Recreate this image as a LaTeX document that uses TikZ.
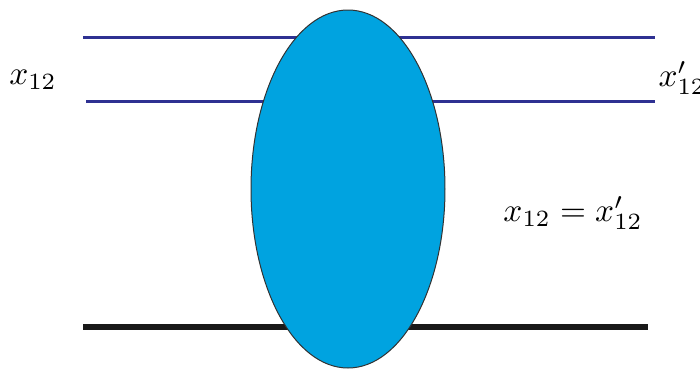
\documentclass[tikz,border=0pt]{standalone}
\usepackage{amsmath,amssymb}
\usepackage{tikz}
\usetikzlibrary{shapes.geometric}

\definecolor{linenavy}{RGB}{46,49,146}
\definecolor{blobcyan}{RGB}{0,163,224}
\definecolor{blobedge}{RGB}{50,50,50}

\begin{document}
\begin{tikzpicture}[x=0.3pt,y=-0.3pt,
    wire/.style={linenavy,line width=0.9pt},
    heavywire/.style={black!90,line width=1.8pt},
    blob/.style={ellipse,fill=blobcyan,draw=blobedge,line width=0.3pt,
        minimum width=194*0.3pt,minimum height=358*0.3pt,inner sep=0pt}]
            \useasboundingbox (0,0) rectangle (700,368);
            \coordinate (inA) at (83,37);    % incoming lines
            \coordinate (outA) at (655,37);
            \coordinate (inB) at (86,101);
            \coordinate (outB) at (655,101);
            \coordinate (inC) at (83,327);
            \coordinate (outC) at (648,327);
            \draw[wire] (inA) -- (outA);
            \draw[wire] (inB) -- (outB);
            \draw[heavywire] (inC) -- (outC);

            \node[blob] (V) at (348,189) {};

            \node (L) at (33,80) {$x_{12}$};
            \node[anchor=west,inner sep=0pt] (R) at (658,78) {$x'_{12}$};
            \node (E) at (573,213) {$x_{12}=x'_{12}$};
\end{tikzpicture}
\end{document}
